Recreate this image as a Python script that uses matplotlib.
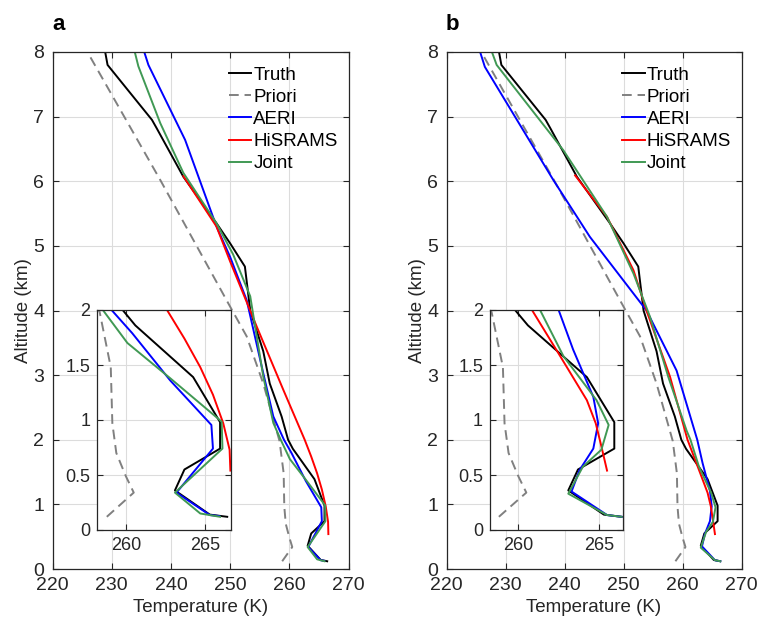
import numpy as np
import matplotlib
matplotlib.use("Agg")
import matplotlib.pyplot as plt
from matplotlib.ticker import FormatStrFormatter

plt.rcParams['font.family'] = ['Liberation Sans', 'DejaVu Sans']

# ---- data (altitude in km, temperature in K) ----
# truth and priori are shared by both panels
z_truth = [0.12, 0.14, 0.36, 0.55, 0.74, 0.98, 1.39, 1.86, 2.0, 2.36, 2.87, 3.37,
           4.0, 4.68, 5.04, 5.35, 6.07, 6.82, 6.95, 7.8, 8.0]
t_truth = [266.4, 265.3, 263.1, 263.7, 265.95, 265.95, 264.25, 260.6, 259.8, 258.7,
           256.7, 255.6, 253.4, 252.5, 250.0, 247.7, 242.1, 237.6, 236.8, 229.3, 228.9]

z_priori = [0.12, 0.34, 0.49, 0.7, 0.97, 1.48, 1.98, 2.87, 3.6, 4.11, 6.02, 8.0]
t_priori = [258.8, 260.5, 260.0, 259.4, 259.15, 259.05, 258.35, 255.6, 252.8, 249.7,
            238.2, 225.9]

# panel a
z_aeri_a = [0.127, 0.136, 0.34, 0.74, 0.955, 1.36, 1.79, 2.0, 2.36, 3.03, 4.16,
            4.83, 5.3, 6.64, 7.8, 8.0]
t_aeri_a = [265.9, 265.3, 263.2, 265.5, 265.4, 262.8, 260.4, 259.1, 257.3, 255.6,
            252.8, 250.0, 247.7, 242.4, 236.2, 235.5]

z_hisr_a = [0.54, 0.73, 0.97, 1.23, 1.48, 1.74, 2.0, 2.77, 3.75, 4.76, 5.3, 6.08]
t_hisr_a = [266.6, 266.55, 266.15, 265.5, 264.7, 263.7, 262.6, 259.0, 254.5, 250.0,
            247.7, 242.1]

z_joint_a = [0.12, 0.15, 0.34, 0.74, 0.985, 1.38, 1.70, 2.0, 2.26, 2.98, 4.22,
             4.87, 5.35, 6.13, 6.9, 7.78, 8.0]
t_joint_a = [265.95, 264.7, 263.1, 266.1, 266.05, 262.8, 260.1, 258.55, 257.3, 255.6,
             253.4, 250.5, 247.7, 242.1, 238.2, 234.5, 233.9]

# panel b
z_aeri_b = [0.12, 0.136, 0.35, 0.545, 0.74, 0.97, 1.21, 1.64, 2.0, 3.07, 4.0,
            5.14, 6.02, 7.77, 8.0]
t_aeri_b = [266.4, 265.5, 263.3, 263.8, 264.65, 264.95, 264.65, 263.4, 262.5, 259.0,
            253.9, 244.3, 238.1, 226.5, 225.7]

z_hisr_b = [0.54, 0.76, 0.97, 1.18, 1.58, 2.0, 2.97, 4.0, 4.62, 5.45, 6.09]
t_hisr_b = [265.5, 265.15, 264.8, 264.25, 262.6, 260.85, 257.9, 253.9, 251.7, 247.2,
            241.8]

z_joint_b = [0.12, 0.136, 0.33, 0.575, 0.73, 0.955, 1.18, 1.58, 2.0, 2.14, 2.97,
             3.9, 4.57, 5.45, 6.48, 7.8, 8.0]
t_joint_b = [266.4, 265.5, 263.1, 264.0, 265.15, 265.6, 264.85, 262.8, 261.35, 260.7,
             257.6, 254.5, 251.7, 247.2, 239.8, 228.5, 227.7]

labels = ['Truth', 'Priori', 'AERI', 'HiSRAMS', 'Joint']
inset_xlim_a = (258.2, 266.62)
inset_xlim_b = (258.25, 266.47)

AX_COL = '#262626'
GREEN = (0.25, 0.6, 0.33)
LW = 1.4


def draw_lines(ax, aeri, hisr, joint):
    ax.plot(t_truth, z_truth, color='black', lw=LW, label=labels[0])
    ax.plot(t_priori, z_priori, color=(0.5, 0.5, 0.5), lw=LW, dashes=(5, 3),
            label=labels[1])
    ax.plot(aeri[1], aeri[0], color='blue', lw=LW, label=labels[2])
    ax.plot(hisr[1], hisr[0], color='red', lw=LW, label=labels[3])
    ax.plot(joint[1], joint[0], color=GREEN, lw=LW, label=labels[4])


def style(ax, fs, pad):
    for s in ax.spines.values():
        s.set_color(AX_COL)
        s.set_linewidth(0.9)
    ax.tick_params(direction='in', top=True, right=True, colors=AX_COL,
                   labelsize=fs, length=4, width=0.8, pad=pad)
    ax.grid(True, color='#dcdcdc', lw=0.8)
    ax.set_axisbelow(True)


fig = plt.figure(figsize=(7.6, 6.25), dpi=100)

panels = [
    ('a', 52.5, 296, (z_aeri_a, t_aeri_a), (z_hisr_a, t_hisr_a),
     (z_joint_a, t_joint_a), 97.3, 133.4, inset_xlim_a),
    ('b', 446.5, 295, (z_aeri_b, t_aeri_b), (z_hisr_b, t_hisr_b),
     (z_joint_b, t_joint_b), 490.0, 132.7, inset_xlim_b),
]

for name, left, width, aeri, hisr, joint, ileft, iwidth, ixlim in panels:
    ax = fig.add_axes([left / 760, 56 / 625, width / 760, 517 / 625])
    draw_lines(ax, aeri, hisr, joint)
    ax.set_xlim(220, 270)
    ax.set_ylim(0, 8)
    ax.set_xticks(np.arange(220, 271, 10))
    ax.set_yticks(np.arange(0, 9, 1))
    style(ax, 14, 6)
    ax.set_xlabel('Temperature (K)', fontsize=13.5, color=AX_COL, labelpad=3)
    ax.set_ylabel('Altitude (km)', fontsize=13.5, color=AX_COL, labelpad=1)
    ax.legend(loc='upper left', bbox_to_anchor=(0.596, 0.972), frameon=False,
              fontsize=13.5, handlelength=1.2, handletextpad=0.1,
              labelspacing=0.27, borderpad=0, borderaxespad=0)
    fig.text((left + 6) / 760, 1 - 30 / 625, name, fontsize=16,
             fontweight='bold', ha='center', va='baseline')

    ins = fig.add_axes([ileft / 760, 95 / 625, iwidth / 760, 220 / 625])
    draw_lines(ins, aeri, hisr, joint)
    ins.set_xlim(*ixlim)
    ins.set_ylim(0, 2)
    ins.set_xticks([260, 265])
    ins.set_yticks([0, 0.5, 1, 1.5, 2])
    ins.yaxis.set_major_formatter(FormatStrFormatter('%g'))
    style(ins, 13, 5)

fig.savefig('out.png', dpi=100)
